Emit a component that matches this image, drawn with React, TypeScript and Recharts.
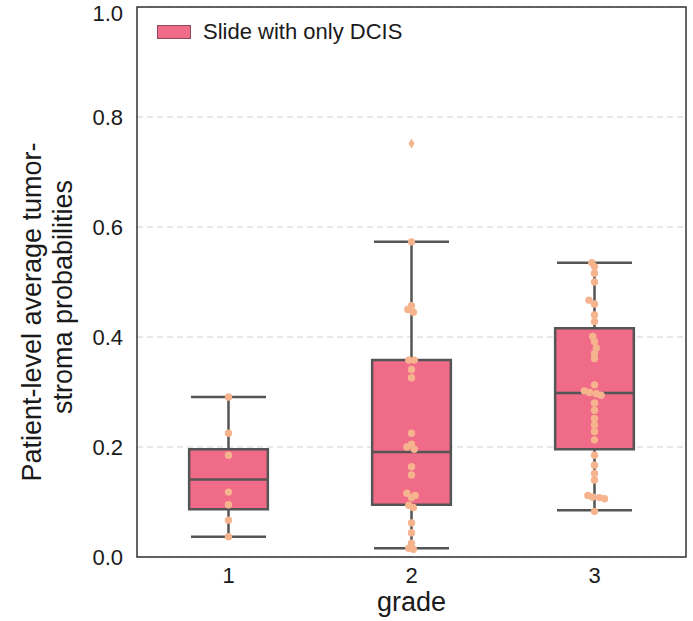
import {
  CartesianGrid,
  ComposedChart,
  Legend,
  ReferenceArea,
  ReferenceLine,
  Scatter,
  XAxis,
  YAxis,
} from "recharts";

const grades = [1, 2, 3];
const lowerWhiskers = [0.037, 0.016, 0.085];
const firstQuartiles = [0.087, 0.095, 0.196];
const medians = [0.141, 0.191, 0.298];
const thirdQuartiles = [0.196, 0.358, 0.416];
const upperWhiskers = [0.291, 0.573, 0.535];

const grade1Values = [0.291, 0.225, 0.185, 0.118, 0.095, 0.067, 0.037];
const grade1Offsets = [0, 0, 0, 0, 0, 0, 0];

const grade2Values = [
  0.573, 0.457, 0.45, 0.445, 0.358, 0.358, 0.341, 0.326, 0.225, 0.205, 0.2, 0.196,
  0.164, 0.149, 0.116, 0.112, 0.108, 0.094, 0.09, 0.062, 0.044, 0.025, 0.016, 0.014,
];
const grade2Offsets = [
  0, 0, -0.02, 0.01, -0.015, 0.015, 0, 0, 0, 0, -0.025, 0.015,
  0, 0, -0.025, 0.02, 0, -0.015, 0.01, 0, 0, 0, -0.015, 0.01,
];

const grade3Values = [
  0.535, 0.528, 0.516, 0.5, 0.467, 0.46, 0.44, 0.428, 0.401, 0.392, 0.38, 0.37, 0.361,
  0.313, 0.302, 0.299, 0.297, 0.294, 0.28, 0.267, 0.252, 0.24, 0.228, 0.213, 0.185,
  0.167, 0.152, 0.14, 0.112, 0.109, 0.108, 0.106, 0.083,
];
const grade3Offsets = [
  -0.015, 0, 0, 0, -0.03, 0, 0, 0, -0.01, 0, 0.01, 0, 0,
  0, -0.055, -0.027, 0.01, 0.036, 0, 0, 0, 0, 0, 0, 0,
  0, 0, 0, -0.036, -0.01, 0.027, 0.055, 0,
];

const outlierGrades = [2];
const outlierValues = [0.752];

const yTicks = [0, 0.2, 0.4, 0.6, 0.8, 1.0];

const BOX_FILL = "#f06b88";
const EDGE = "#555555";
const POINT = "#f5b48e";
const FONT = "'Liberation Sans', Arial, sans-serif";
const BOX_HALF = 0.215;
const CAP_HALF = 0.205;

const toPoints = (grade: number, values: number[], offsets: number[]) =>
  values.map((v, i) => ({ x: grade + offsets[i], y: v }));

const pointData = [
  ...toPoints(1, grade1Values, grade1Offsets),
  ...toPoints(2, grade2Values, grade2Offsets),
  ...toPoints(3, grade3Values, grade3Offsets),
];

const outlierData = outlierGrades.map((g, i) => ({ x: g, y: outlierValues[i] }));

const Dot = (props: any) => <circle cx={props.cx} cy={props.cy} r={3.7} fill={POINT} />;

const Diamond = (props: any) => {
  const { cx, cy } = props;
  return (
    <path
      d={`M${cx},${cy - 5} L${cx + 3},${cy} L${cx},${cy + 5} L${cx - 3},${cy} Z`}
      fill={POINT}
    />
  );
};

const YLabel = () => (
  <g fontFamily={FONT} fontSize={27} fill="#1a1a1a">
    <text x={41} y={312} textAnchor="middle" transform="rotate(-90, 41, 312)">
      Patient-level average tumor-
    </text>
    <text x={72} y={297} textAnchor="middle" transform="rotate(-90, 72, 297)">
      stroma probabilities
    </text>
  </g>
);

const XLabel = (props: any) => {
  const vb = props.viewBox;
  return (
    <text
      x={vb.x + vb.width / 2}
      y={vb.y + 54}
      textAnchor="middle"
      fontFamily={FONT}
      fontSize={27}
      fill="#1a1a1a"
    >
      grade
    </text>
  );
};

const LegendBox = () => (
  <div style={{ display: "flex", alignItems: "center", fontFamily: FONT, fontSize: 22, color: "#1a1a1a" }}>
    <span
      style={{
        display: "inline-block",
        width: 32,
        height: 12,
        background: BOX_FILL,
        border: "1px solid #8a4a58",
        marginRight: 12,
      }}
    />
    Slide with only DCIS
  </div>
);

export default function App() {
  return (
    <div style={{ position: "absolute", left: 0, top: 0, width: 693, height: 621, background: "#fff" }}>
      <ComposedChart width={693} height={621} margin={{ top: 7, right: 7, bottom: 0, left: 0 }}>
        <CartesianGrid vertical={false} stroke="#d0d0d0" strokeDasharray="6 4" />
        <XAxis
          dataKey="x"
          type="number"
          domain={[0.5, 3.5]}
          ticks={grades}
          height={64}
          axisLine={false}
          tickLine={false}
          tickMargin={4}
          tick={{ fill: "#1a1a1a", fontSize: 22, fontFamily: FONT }}
          label={<XLabel />}
        />
        <YAxis
          type="number"
          domain={[0, 1]}
          ticks={yTicks}
          width={137}
          axisLine={false}
          tickLine={false}
          tickMargin={8}
          tickFormatter={(v: number) => v.toFixed(1)}
          tick={{ fill: "#1a1a1a", fontSize: 22, fontFamily: FONT }}
          label={<YLabel />}
        />
        <ReferenceArea x1={0.5} x2={3.5} y1={0} y2={1} fill="none" stroke="#333" strokeWidth={1.5} />
        {grades.map((g, i) => (
          <ReferenceLine
            key={`wl${g}`}
            segment={[{ x: g, y: lowerWhiskers[i] }, { x: g, y: firstQuartiles[i] }]}
            stroke={EDGE}
            strokeWidth={2.5}
          />
        ))}
        {grades.map((g, i) => (
          <ReferenceLine
            key={`wu${g}`}
            segment={[{ x: g, y: thirdQuartiles[i] }, { x: g, y: upperWhiskers[i] }]}
            stroke={EDGE}
            strokeWidth={2.5}
          />
        ))}
        {grades.map((g, i) => (
          <ReferenceLine
            key={`cl${g}`}
            segment={[{ x: g - CAP_HALF, y: lowerWhiskers[i] }, { x: g + CAP_HALF, y: lowerWhiskers[i] }]}
            stroke={EDGE}
            strokeWidth={2.5}
          />
        ))}
        {grades.map((g, i) => (
          <ReferenceLine
            key={`cu${g}`}
            segment={[{ x: g - CAP_HALF, y: upperWhiskers[i] }, { x: g + CAP_HALF, y: upperWhiskers[i] }]}
            stroke={EDGE}
            strokeWidth={2.5}
          />
        ))}
        {grades.map((g, i) => (
          <ReferenceArea
            key={`box${g}`}
            x1={g - BOX_HALF}
            x2={g + BOX_HALF}
            y1={firstQuartiles[i]}
            y2={thirdQuartiles[i]}
            fill={BOX_FILL}
            fillOpacity={1}
            stroke={EDGE}
            strokeWidth={2.5}
          />
        ))}
        {grades.map((g, i) => (
          <ReferenceLine
            key={`med${g}`}
            segment={[{ x: g - BOX_HALF, y: medians[i] }, { x: g + BOX_HALF, y: medians[i] }]}
            stroke={EDGE}
            strokeWidth={2.5}
          />
        ))}
        <Scatter data={outlierData} dataKey="y" shape={<Diamond />} isAnimationActive={false} />
        <Scatter data={pointData} dataKey="y" shape={<Dot />} isAnimationActive={false} />
        <Legend
          layout="vertical"
          align="center"
          verticalAlign="middle"
          content={<LegendBox />}
          wrapperStyle={{ position: "absolute", left: 157, top: 19, width: "auto" }}
        />
      </ComposedChart>
    </div>
  );
}
